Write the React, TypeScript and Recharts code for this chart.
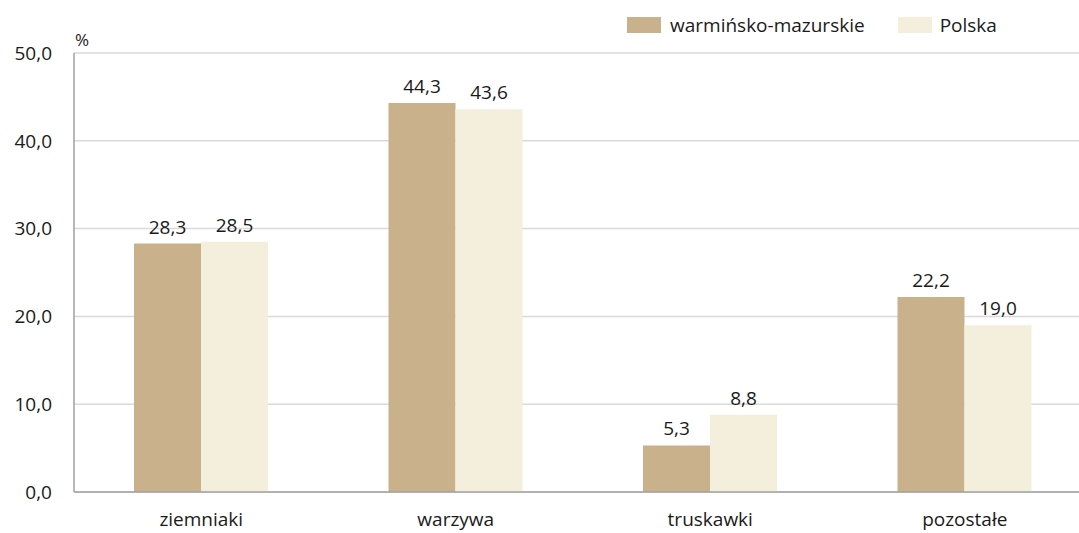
import { BarChart, Bar, XAxis, YAxis, CartesianGrid, LabelList, Label } from 'recharts';

const categories = ['ziemniaki', 'warzywa', 'truskawki', 'pozostałe'];
const warminskoMazurskie = [28.3, 44.3, 5.3, 22.2];
const polska = [28.5, 43.6, 8.8, 19.0];
const yTicks = [0, 10, 20, 30, 40, 50];

const data = categories.map((name, i) => ({
  name,
  wm: warminskoMazurskie[i],
  pl: polska[i],
}));

const FONT = '"Open Sans", sans-serif';
const fmt = (v: any) => Number(v).toFixed(1).replace('.', ',');

const LegendBox = () => (
  <div
    style={{
      position: 'absolute',
      left: 627,
      top: 12,
      display: 'flex',
      alignItems: 'center',
      fontFamily: FONT,
      fontSize: 19,
      color: '#1a1a1a',
      whiteSpace: 'nowrap',
    }}
  >
    <span style={{ width: 34, height: 16, background: '#C9B28B', display: 'inline-block' }} />
    <span style={{ marginLeft: 9, marginRight: 33 }}>warmińsko-mazurskie</span>
    <span style={{ width: 34, height: 16, background: '#F4EEDC', display: 'inline-block' }} />
    <span style={{ marginLeft: 8 }}>Polska</span>
  </div>
);

export default function App() {
  return (
    <div style={{ position: 'fixed', left: 0, top: 0, width: 1079, height: 533, overflow: 'hidden', background: '#fff' }}>
      <BarChart
        width={1100}
        height={533}
        data={data}
        margin={{ top: 53, right: 8, left: 0, bottom: 11 }}
        barGap={0}
        barSize={67}
        style={{ fontFamily: FONT }}
      >
        <CartesianGrid vertical={false} stroke="#d9d9d9" strokeWidth={1.5} />
        <XAxis
          dataKey="name"
          height={30}
          axisLine={{ stroke: '#a0a0a0', strokeWidth: 1.5 }}
          tickLine={false}
          tickMargin={15}
          tick={{ fill: '#1a1a1a', fontSize: 19 }}
          interval={0}
        />
        <YAxis
          width={74}
          domain={[0, 50]}
          ticks={yTicks}
          tickFormatter={fmt}
          axisLine={{ stroke: '#a0a0a0', strokeWidth: 1.5 }}
          tickLine={false}
          tickSize={0}
          tickMargin={22}
          tick={{ fill: '#1a1a1a', fontSize: 19 }}
        >
          <Label
            content={({ viewBox }: any) => (
              <text x={viewBox.x + viewBox.width + 1} y={viewBox.y - 7} fontSize={17} fill="#1a1a1a">
                %
              </text>
            )}
          />
        </YAxis>
        <Bar dataKey="wm" name="warmińsko-mazurskie" fill="#C9B28B" isAnimationActive={false}>
          <LabelList dataKey="wm" position="top" offset={10} formatter={fmt} fill="#1a1a1a" fontSize={19} />
        </Bar>
        <Bar dataKey="pl" name="Polska" fill="#F4EEDC" isAnimationActive={false}>
          <LabelList dataKey="pl" position="top" offset={10} formatter={fmt} fill="#1a1a1a" fontSize={19} />
        </Bar>
      </BarChart>
      <LegendBox />
    </div>
  );
}
